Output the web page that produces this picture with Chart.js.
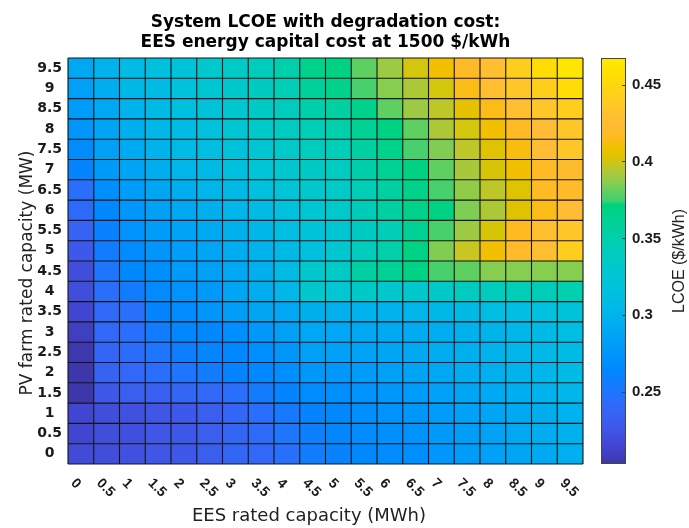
<!DOCTYPE html>
<html>
<head>
<meta charset="utf-8">
<script src="https://cdn.jsdelivr.net/npm/chart.js@4.4.1/dist/chart.umd.min.js"></script>
<style>
  html, body { margin: 0; padding: 0; background: #fff; }
</style>
</head>
<body>
<canvas id="lcoeChart" width="689" height="528"></canvas>
<script>
// axis categories
var eesCapacity = ['0', '0.5', '1', '1.5', '2', '2.5', '3', '3.5', '4', '4.5',
                   '5', '5.5', '6', '6.5', '7', '7.5', '8', '8.5', '9', '9.5'];
var pvCapacity  = ['0', '0.5', '1', '1.5', '2', '2.5', '3', '3.5', '4', '4.5',
                   '5', '5.5', '6', '6.5', '7', '7.5', '8', '8.5', '9', '9.5'];

// LCOE ($/kWh) per PV row, one value per EES capacity
var pv0   = [0.218, 0.220, 0.222, 0.226, 0.228, 0.232, 0.238, 0.240, 0.246, 0.255, 0.260, 0.265, 0.268, 0.270, 0.275, 0.280, 0.284, 0.288, 0.292, 0.296];
var pv0_5 = [0.215, 0.220, 0.221, 0.226, 0.228, 0.232, 0.238, 0.242, 0.250, 0.258, 0.264, 0.268, 0.270, 0.273, 0.278, 0.282, 0.286, 0.290, 0.294, 0.298];
var pv1   = [0.215, 0.220, 0.222, 0.226, 0.228, 0.232, 0.238, 0.245, 0.253, 0.262, 0.266, 0.270, 0.272, 0.276, 0.280, 0.284, 0.288, 0.292, 0.295, 0.299];
var pv1_5 = [0.204, 0.228, 0.232, 0.234, 0.238, 0.240, 0.245, 0.254, 0.262, 0.268, 0.270, 0.273, 0.276, 0.280, 0.284, 0.288, 0.292, 0.296, 0.300, 0.303];
var pv2   = [0.204, 0.236, 0.240, 0.245, 0.250, 0.255, 0.262, 0.265, 0.270, 0.276, 0.277, 0.280, 0.283, 0.287, 0.290, 0.294, 0.297, 0.300, 0.303, 0.307];
var pv2_5 = [0.205, 0.238, 0.244, 0.250, 0.257, 0.263, 0.266, 0.270, 0.276, 0.283, 0.284, 0.286, 0.288, 0.291, 0.294, 0.297, 0.300, 0.303, 0.306, 0.310];
var pv3   = [0.210, 0.240, 0.245, 0.255, 0.264, 0.266, 0.270, 0.277, 0.283, 0.289, 0.289, 0.290, 0.291, 0.293, 0.295, 0.298, 0.301, 0.304, 0.307, 0.313];
var pv3_5 = [0.215, 0.240, 0.246, 0.262, 0.268, 0.275, 0.282, 0.288, 0.290, 0.297, 0.298, 0.299, 0.300, 0.302, 0.305, 0.307, 0.312, 0.314, 0.316, 0.320];
var pv4   = [0.220, 0.245, 0.255, 0.268, 0.272, 0.278, 0.288, 0.295, 0.305, 0.330, 0.327, 0.332, 0.330, 0.330, 0.333, 0.338, 0.340, 0.345, 0.343, 0.348];
var pv4_5 = [0.220, 0.250, 0.265, 0.270, 0.278, 0.283, 0.290, 0.297, 0.310, 0.330, 0.335, 0.355, 0.362, 0.370, 0.376, 0.380, 0.386, 0.386, 0.386, 0.386];
var pv5   = [0.228, 0.255, 0.268, 0.275, 0.282, 0.288, 0.294, 0.300, 0.307, 0.315, 0.328, 0.340, 0.350, 0.370, 0.385, 0.398, 0.410, 0.420, 0.428, 0.440];
var pv5_5 = [0.236, 0.260, 0.272, 0.280, 0.286, 0.292, 0.298, 0.305, 0.312, 0.320, 0.325, 0.337, 0.345, 0.362, 0.376, 0.390, 0.402, 0.416, 0.428, 0.435];
var pv6   = [0.242, 0.265, 0.276, 0.284, 0.290, 0.297, 0.303, 0.310, 0.317, 0.325, 0.333, 0.343, 0.355, 0.366, 0.370, 0.385, 0.393, 0.404, 0.414, 0.425];
var pv6_5 = [0.245, 0.270, 0.280, 0.288, 0.295, 0.302, 0.308, 0.315, 0.322, 0.330, 0.335, 0.345, 0.355, 0.366, 0.376, 0.388, 0.396, 0.404, 0.418, 0.420];
var pv7   = [0.262, 0.278, 0.287, 0.295, 0.302, 0.308, 0.315, 0.322, 0.328, 0.335, 0.338, 0.350, 0.362, 0.370, 0.380, 0.392, 0.402, 0.410, 0.418, 0.422];
var pv7_5 = [0.268, 0.283, 0.292, 0.300, 0.307, 0.313, 0.320, 0.326, 0.333, 0.340, 0.345, 0.355, 0.366, 0.376, 0.385, 0.396, 0.404, 0.413, 0.425, 0.435];
var pv8   = [0.275, 0.287, 0.297, 0.305, 0.310, 0.318, 0.325, 0.332, 0.338, 0.345, 0.350, 0.362, 0.370, 0.380, 0.393, 0.401, 0.410, 0.418, 0.425, 0.435];
var pv8_5 = [0.280, 0.290, 0.300, 0.308, 0.315, 0.320, 0.328, 0.335, 0.340, 0.350, 0.355, 0.366, 0.380, 0.390, 0.396, 0.406, 0.414, 0.428, 0.435, 0.442];
var pv9   = [0.283, 0.295, 0.305, 0.310, 0.318, 0.325, 0.330, 0.338, 0.345, 0.360, 0.366, 0.376, 0.386, 0.393, 0.401, 0.414, 0.428, 0.435, 0.442, 0.455];
var pv9_5 = [0.290, 0.300, 0.310, 0.315, 0.320, 0.330, 0.335, 0.340, 0.350, 0.365, 0.370, 0.380, 0.390, 0.401, 0.410, 0.418, 0.428, 0.442, 0.455, 0.463];

var lcoeRows = [pv0, pv0_5, pv1, pv1_5, pv2, pv2_5, pv3, pv3_5, pv4, pv4_5,
                pv5, pv5_5, pv6, pv6_5, pv7, pv7_5, pv8, pv8_5, pv9, pv9_5];

// colour bar range and ticks
var cbMin = 0.2033;
var cbMax = 0.4673;
var cbTicks = [0.25, 0.3, 0.35, 0.4, 0.45];

// colour map sampled from the colour bar
var cmapStops = [
  [0.2033, '#3e36a8'], [0.215, '#4146d2'], [0.225, '#4055e6'], [0.235, '#3862f2'],
  [0.245, '#2a6efc'], [0.255, '#127cff'], [0.265, '#0088ff'], [0.275, '#0096fc'],
  [0.285, '#00a2f6'], [0.295, '#00aef0'], [0.305, '#00b8e8'], [0.315, '#00c0e0'],
  [0.325, '#00c6d4'], [0.335, '#00cac6'], [0.345, '#00ceb6'], [0.355, '#00d0a2'],
  [0.365, '#00d28e'], [0.372, '#00d27e'], [0.374, '#3cd070'], [0.38, '#5ed062'],
  [0.386, '#86ce50'], [0.392, '#a8c83c'], [0.398, '#c8c620'], [0.403, '#dcc400'],
  [0.41, '#f2c000'], [0.416, '#ffba22'], [0.425, '#ffbc34'], [0.435, '#ffc62a'],
  [0.445, '#ffd216'], [0.455, '#ffdc06'], [0.4673, '#ffea00']
];

var arialFont = "'Liberation Sans', Arial, sans-serif";
var wideFont = "'DejaVu Sans', 'Liberation Sans', sans-serif";

function hexToRgb(h) {
  return [parseInt(h.substr(1, 2), 16), parseInt(h.substr(3, 2), 16), parseInt(h.substr(5, 2), 16)];
}

function lcoeColor(v) {
  if (v <= cmapStops[0][0]) return cmapStops[0][1];
  for (var i = 1; i < cmapStops.length; i++) {
    if (v <= cmapStops[i][0]) {
      var a = cmapStops[i - 1], b = cmapStops[i];
      var t = (v - a[0]) / (b[0] - a[0]);
      var ca = hexToRgb(a[1]), cb = hexToRgb(b[1]);
      var rgb = ca.map(function (c, k) { return Math.round(c + (cb[k] - c) * t); });
      return 'rgb(' + rgb.join(',') + ')';
    }
  }
  return cmapStops[cmapStops.length - 1][1];
}

// one floating-bar dataset per PV row
var datasets = lcoeRows.map(function (row, r) {
  var pv = parseFloat(pvCapacity[r]);
  return {
    label: pvCapacity[r] + ' MW',
    data: row.map(function () { return [pv - 0.25, pv + 0.25]; }),
    backgroundColor: row.map(lcoeColor),
    borderWidth: 0,
    grouped: false,
    barPercentage: 1,
    categoryPercentage: 1
  };
});

// cell borders, rotated x labels, axis titles and the colour bar
var heatmapExtras = {
  id: 'heatmapExtras',
  afterDatasetsDraw: function (chart) {
    var ctx = chart.ctx;
    var area = chart.chartArea;
    var xs = chart.scales.x, ys = chart.scales.y, cs = chart.scales.cb;
    var i;
    ctx.save();

    ctx.strokeStyle = '#141414';
    ctx.lineWidth = 1.1;
    ctx.beginPath();
    for (i = 0; i <= eesCapacity.length; i++) {
      var px = xs.getPixelForValue(i - 0.5);
      ctx.moveTo(px, area.top);
      ctx.lineTo(px, area.bottom);
    }
    for (i = 0; i <= pvCapacity.length; i++) {
      var v = i < pvCapacity.length ? parseFloat(pvCapacity[i]) - 0.25 : parseFloat(pvCapacity[i - 1]) + 0.25;
      var py = ys.getPixelForValue(v);
      ctx.moveTo(area.left, py);
      ctx.lineTo(area.right, py);
    }
    ctx.stroke();

    // x tick labels, slanted down to the right
    ctx.fillStyle = '#1a1a1a';
    ctx.font = 'bold 14px ' + arialFont;
    ctx.textAlign = 'left';
    ctx.textBaseline = 'top';
    for (i = 0; i < eesCapacity.length; i++) {
      ctx.save();
      ctx.translate(xs.getPixelForValue(i) - 3, area.bottom + 12);
      ctx.rotate(Math.PI / 4);
      ctx.fillText(eesCapacity[i], 0, 0);
      ctx.restore();
    }

    // axis titles
    ctx.fillStyle = '#222';
    ctx.textAlign = 'center';
    ctx.textBaseline = 'middle';
    ctx.font = '18px ' + wideFont;
    ctx.fillText('EES rated capacity (MWh)', 309, 516);
    ctx.save();
    ctx.translate(28, 273);
    ctx.rotate(-Math.PI / 2);
    ctx.font = '17px ' + wideFont;
    ctx.fillText('PV farm rated capacity (MW)', 0, 0);
    ctx.restore();

    // colour bar
    var top = cs.getPixelForValue(cbMax);
    var bot = cs.getPixelForValue(cbMin);
    var x0 = area.right + 18, w = 25;
    var g = ctx.createLinearGradient(0, bot, 0, top);
    cmapStops.forEach(function (s) {
      g.addColorStop((s[0] - cbMin) / (cbMax - cbMin), s[1]);
    });
    ctx.fillStyle = g;
    ctx.fillRect(x0, top, w, bot - top);
    ctx.strokeStyle = '#444';
    ctx.lineWidth = 1;
    ctx.strokeRect(x0 + 0.5, top + 0.5, w - 1, bot - top - 1);
    ctx.beginPath();
    cbTicks.forEach(function (t) {
      var ty = Math.round(cs.getPixelForValue(t)) + 0.5;
      ctx.moveTo(x0 + w - 4, ty);
      ctx.lineTo(x0 + w, ty);
    });
    ctx.stroke();

    ctx.save();
    ctx.translate(680, (top + bot) / 2);
    ctx.rotate(-Math.PI / 2);
    ctx.fillStyle = '#222';
    ctx.font = '16px ' + arialFont;
    ctx.textAlign = 'center';
    ctx.textBaseline = 'middle';
    ctx.fillText('LCOE ($/kWh)', 0, 0);
    ctx.restore();

    ctx.restore();
  }
};

var ctx = document.getElementById('lcoeChart').getContext('2d');
var lcoeChart = new Chart(ctx, {
  type: 'bar',
  data: {
    labels: eesCapacity,
    datasets: datasets
  },
  options: {
    responsive: false,
    animation: false,
    layout: { padding: 0 },
    scales: {
      x: {
        type: 'category',
        offset: true,
        grid: { display: false, drawTicks: false },
        border: { display: false },
        ticks: { display: false },
        afterFit: function (s) { s.height = 64; }
      },
      y: {
        type: 'linear',
        min: -0.25,
        max: 9.75,
        grid: { display: false, drawTicks: false },
        border: { display: false },
        afterBuildTicks: function (s) {
          s.ticks = pvCapacity.map(function (l) { return { value: parseFloat(l) }; });
        },
        ticks: {
          autoSkip: false,
          crossAlign: 'center',
          padding: 6,
          color: '#1a1a1a',
          font: { family: wideFont, size: 14, weight: 'bold' },
          callback: function (v, i) { return pvCapacity[i]; }
        },
        afterFit: function (s) { s.width = 68; }
      },
      cb: {
        type: 'linear',
        position: 'right',
        min: cbMin,
        max: cbMax,
        grid: { display: false, drawTicks: false },
        border: { display: false },
        afterBuildTicks: function (s) {
          s.ticks = cbTicks.map(function (t) { return { value: t }; });
        },
        ticks: {
          autoSkip: false,
          padding: 49,
          color: '#1a1a1a',
          font: { family: arialFont, size: 15, weight: 'bold' },
          callback: function (v) { return String(Math.round(v * 100) / 100); }
        },
        afterFit: function (s) { s.width = 106; }
      }
    },
    plugins: {
      legend: { display: false },
      tooltip: { enabled: false },
      title: {
        display: true,
        fullSize: false,
        text: ['System LCOE with degradation cost:', 'EES energy capital cost at 1500 $/kWh'],
        color: '#000',
        font: { family: wideFont, size: 17, weight: 'bold', lineHeight: 1.2 },
        padding: { top: 9, bottom: 5 }
      }
    }
  },
  plugins: [heatmapExtras]
});
</script>
</body>
</html>
